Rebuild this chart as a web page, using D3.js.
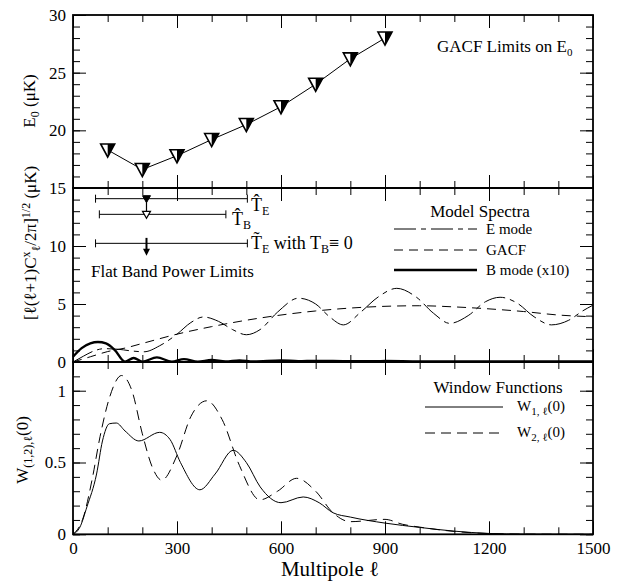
<!DOCTYPE html>
<html>
<head>
<meta charset="utf-8">
<script src="https://cdn.jsdelivr.net/npm/d3@7"></script>
<style>
body{margin:0;background:#fff;}
</style>
</head>
<body>
<svg width="625" height="584"></svg>
<script>
// top panel: GACF limits on E0
var gacfL = [100,200,300,400,500,600,700,800,900];
var gacfE0 = [18.3,16.6,17.8,19.2,20.5,22.05,24.0,26.2,28.0];

// middle panel: model spectra
var eL = [0,30,60,90,130,170,205,250,300,340,376,420,460,500,540,590,650,700,740,780,830,880,934,990,1040,1087,1140,1190,1232,1280,1330,1380,1430,1470,1500];
var eV = [0,0.5,0.95,1.15,1.1,0.95,0.88,1.4,2.4,3.4,3.88,3.5,2.8,2.35,2.8,4.3,5.5,5.0,3.9,3.2,4.3,5.6,6.35,5.6,4.2,3.33,4.0,5.2,5.58,5.1,3.9,3.2,3.6,4.4,4.9];
var gL = [0,50,100,150,200,300,400,500,600,700,800,900,1000,1100,1200,1300,1400,1500];
var gV = [0,0.45,0.9,1.2,1.6,2.4,3.05,3.6,4.05,4.4,4.65,4.8,4.85,4.75,4.58,4.35,4.05,3.9];
var bL = [0,25,50,72,95,120,150,175,200,242,285,320,360,400,440,480,520,600,650,700,800,900,1000,1200,1500];
var bV = [0.45,1.2,1.6,1.72,1.6,1.05,0.03,0.35,0.03,0.4,0.03,0.25,0.03,0.17,0.04,0.14,0.05,0.14,0.07,0.1,0.06,0.08,0.05,0.05,0.04];

// flat band power limits
var limitNames = ["TE","TB","TEwith"];
var limitLo = [65,76,65];
var limitHi = [503,441,503];
var limitY = [14.08,12.73,10.23];
var limitL = 212;

// bottom panel: window functions
var w1L = [0,20,40,68,85,105,125,150,190,250,280,310,366,410,462,500,540,600,664,710,750,800,900,1000,1100,1200,1300,1500];
var w1V = [0,0.05,0.19,0.42,0.65,0.77,0.775,0.72,0.65,0.71,0.66,0.5,0.31,0.42,0.585,0.5,0.33,0.22,0.26,0.22,0.15,0.12,0.078,0.048,0.022,0.006,0.001,0];
var w2L = [0,30,55,78,105,140,170,200,230,256,300,340,386,430,480,539,590,645,700,750,800,900,950,1000,1100,1200,1300,1500];
var w2V = [0,0.12,0.38,0.68,0.95,1.106,1.0,0.7,0.46,0.377,0.55,0.82,0.93,0.8,0.48,0.24,0.3,0.39,0.3,0.15,0.088,0.104,0.07,0.05,0.02,0.005,0.001,0];

var xTicks = [0,300,600,900,1200,1500];

var FONT = "'Liberation Serif', 'Times New Roman', Times, serif";
var svg = d3.select("svg").attr("font-family", FONT);
var left = 73, right = 593;
var x = d3.scaleLinear().domain([0,1500]).range([left,right]);
var y1 = d3.scaleLinear().domain([15,30]).range([188,15]);
var y2 = d3.scaleLinear().domain([0,15]).range([362,188]);
var y3 = d3.scaleLinear().domain([0,1.2]).range([534.3,362]);

function frange(a,b,s){ var r=[]; for(var v=a; v<=b+1e-9; v+=s) r.push(+v.toFixed(4)); return r; }

function panel(y, majors, minors, labels, showX){
  var top = y.range()[1], bot = y.range()[0];
  var g = svg.append("g");
  var minX = frange(0,1500,100).filter(function(d){return xTicks.indexOf(d)<0;});
  // x ticks top and bottom
  [[d3.axisTop, top],[d3.axisBottom, bot]].forEach(function(p){
    g.append("g").attr("transform","translate(0,"+p[1]+")")
      .call(p[0](x).tickValues(xTicks).tickSize(-13).tickFormat(""));
    g.append("g").attr("transform","translate(0,"+p[1]+")")
      .call(p[0](x).tickValues(minX).tickSize(-7).tickFormat(""));
  });
  // y ticks left and right
  g.append("g").attr("class","ylab").attr("transform","translate("+left+",0)")
    .call(d3.axisLeft(y).tickValues(majors).tickSize(-13).tickPadding(7)
      .tickFormat(function(d){ return labels.indexOf(d)>=0 ? d : ""; }));
  g.append("g").attr("transform","translate("+left+",0)")
    .call(d3.axisLeft(y).tickValues(minors).tickSize(-7).tickFormat(""));
  g.append("g").attr("transform","translate("+right+",0)")
    .call(d3.axisRight(y).tickValues(majors).tickSize(-13).tickFormat(""));
  g.append("g").attr("transform","translate("+right+",0)")
    .call(d3.axisRight(y).tickValues(minors).tickSize(-7).tickFormat(""));
  if(showX){
    g.append("g").attr("class","ylab").attr("transform","translate(0,"+bot+")")
      .call(d3.axisBottom(x).tickValues(xTicks).tickSize(0).tickPadding(8).tickFormat(d3.format("d")));
  }
  g.selectAll(".domain").remove();
  g.selectAll("g").attr("font-family", FONT);
  g.selectAll(".tick line").attr("stroke","#000").attr("stroke-width",1);
  g.selectAll(".ylab text").attr("font-size",17).attr("fill","#000");
  g.append("rect").attr("x",left).attr("y",top).attr("width",right-left).attr("height",bot-top)
    .attr("fill","none").attr("stroke","#000").attr("stroke-width",1.8);
}

panel(y1, [15,20,25,30], frange(15,30,1), [15,20,25,30], false);
panel(y2, [0,5,10,15], frange(0,15,1), [0,5,10], false);
panel(y3, [0,0.5,1], frange(0,1.2,0.1), [0,0.5,1], true);

// ---- top panel line + markers
var line1 = d3.line().x(function(d){return x(d[0]);}).y(function(d){return y1(d[1]);});
svg.append("path").datum(d3.zip(gacfL,gacfE0)).attr("d",line1)
  .attr("fill","none").attr("stroke","#000").attr("stroke-width",1);
var mk = svg.selectAll(".mk").data(d3.zip(gacfL,gacfE0)).enter().append("g")
  .attr("transform",function(d){return "translate("+x(d[0])+","+y1(d[1])+")";});
mk.append("path").attr("d","M-7,-6L7,-6L0,7Z").attr("fill","#fff").attr("stroke","#000").attr("stroke-width",1.6);
mk.append("path").attr("d","M0,-6L7,-6L0,7Z").attr("fill","#000");

svg.append("text").attr("x",437).attr("y",52).attr("font-size",17)
  .text("GACF Limits on E").append("tspan").attr("dy",4).attr("font-size",11).text("0");

// ---- middle panel curves
function ln(y){ return d3.line().curve(d3.curveMonotoneX).x(function(d){return x(d[0]);}).y(function(d){return y(d[1]);}); }
svg.append("path").datum(d3.zip(gL,gV)).attr("d",ln(y2))
  .attr("fill","none").attr("stroke","#000").attr("stroke-width",1).attr("stroke-dasharray","9,6");
svg.append("path").datum(d3.zip(eL,eV)).attr("d",ln(y2))
  .attr("fill","none").attr("stroke","#000").attr("stroke-width",1).attr("stroke-dasharray","22,5,5,5");
svg.append("path").datum(d3.zip(bL,bV)).attr("d",ln(y2))
  .attr("fill","none").attr("stroke","#000").attr("stroke-width",2.4);

// legend
svg.append("text").attr("x",480).attr("y",217).attr("text-anchor","middle").attr("font-size",17).text("Model Spectra");
var legM = [["E mode","22,5,5,5",1,229],["GACF","9,6",1,250],["B mode (x10)",null,2.4,270]];
legM.forEach(function(d){
  svg.append("line").attr("x1",394).attr("x2",477).attr("y1",d[3]).attr("y2",d[3])
    .attr("stroke","#000").attr("stroke-width",d[2]).attr("stroke-dasharray",d[1]);
  svg.append("text").attr("x",486).attr("y",d[3]+5).attr("font-size",15).text(d[0]);
});

// flat band power limits
limitNames.forEach(function(n,i){
  var yy = y2(limitY[i]);
  svg.append("line").attr("x1",x(limitLo[i])).attr("x2",x(limitHi[i])).attr("y1",yy).attr("y2",yy).attr("stroke","#000").attr("stroke-width",1);
  [limitLo[i],limitHi[i]].forEach(function(e){
    svg.append("line").attr("x1",x(e)).attr("x2",x(e)).attr("y1",yy-4).attr("y2",yy+4).attr("stroke","#000").attr("stroke-width",1);
  });
});
var xl = x(limitL);
svg.append("line").attr("x1",xl).attr("x2",xl).attr("y1",y2(limitY[0])).attr("y2",y2(limitY[1])).attr("stroke","#000").attr("stroke-width",1.2);
svg.append("path").attr("d","M"+(xl-4)+","+(y2(limitY[0])-3)+"l8,0l-4,7z").attr("fill","#000").attr("stroke","#000");
svg.append("path").attr("d","M"+(xl-4)+","+(y2(limitY[1])-3)+"l8,0l-4,7z").attr("fill","#fff").attr("stroke","#000").attr("stroke-width",1.2);
svg.append("line").attr("x1",xl).attr("x2",xl).attr("y1",y2(10.7)).attr("y2",y2(9.5)).attr("stroke","#000").attr("stroke-width",2);
svg.append("path").attr("d","M"+(xl-3.5)+","+(y2(9.5)-3)+"l7,0l-3.5,7z").attr("fill","#000");

function hatLabel(xp, yp, mark, sub, rest){
  var t = svg.append("text").attr("x",xp).attr("y",yp).attr("font-size",18);
  t.append("tspan").text("T"+mark);
  t.append("tspan").attr("dy",4).attr("font-size",12).text(sub);
  if(rest){ rest(t); }
}
hatLabel(251, 211, "\u0302", "E");
hatLabel(232, 225, "\u0302", "B");
hatLabel(251, 249, "\u0303", "E", function(t){
  t.append("tspan").attr("dy",-4).text(" with T");
  t.append("tspan").attr("dy",4).attr("font-size",12).text("B");
  t.append("tspan").attr("dy",-4).text("\u2261 0");
});
svg.append("text").attr("x",91).attr("y",277).attr("font-size",17).text("Flat Band Power Limits");

// ---- bottom panel
svg.append("path").datum(d3.zip(w2L,w2V)).attr("d",ln(y3))
  .attr("fill","none").attr("stroke","#000").attr("stroke-width",1).attr("stroke-dasharray","10,6");
svg.append("path").datum(d3.zip(w1L,w1V)).attr("d",ln(y3))
  .attr("fill","none").attr("stroke","#000").attr("stroke-width",1);

svg.append("text").attr("x",498).attr("y",393).attr("text-anchor","middle").attr("font-size",17).text("Window Functions");
[["1",null,407],["2","10,6",433]].forEach(function(d){
  svg.append("line").attr("x1",425).attr("x2",503).attr("y1",d[2]).attr("y2",d[2])
    .attr("stroke","#000").attr("stroke-width",1).attr("stroke-dasharray",d[1]);
  var t = svg.append("text").attr("x",517).attr("y",d[2]+4).attr("font-size",15);
  t.append("tspan").text("W");
  t.append("tspan").attr("dy",4).attr("font-size",11).text(d[0]+", \u2113");
  t.append("tspan").attr("dy",-4).text("(0)");
});

// ---- axis titles
svg.append("text").attr("x",330).attr("y",576).attr("text-anchor","middle").attr("font-size",21).text("Multipole \u2113");

var t1 = svg.append("text").attr("transform","translate(35,101) rotate(-90)").attr("text-anchor","middle").attr("font-size",17);
t1.append("tspan").text("E");
t1.append("tspan").attr("dy",4).attr("font-size",12).text("0");
t1.append("tspan").attr("dy",-4).text(" (\u03bcK)");

var t2 = svg.append("text").attr("transform","translate(36,243) rotate(-90)").attr("text-anchor","middle").attr("font-size",17);
t2.append("tspan").text("[\u2113(\u2113+1)C");
t2.append("tspan").attr("dy",-6).attr("font-size",12).text("x");
t2.append("tspan").attr("dy",10).attr("font-size",12).text("\u2113");
t2.append("tspan").attr("dy",-4).text("/2\u03c0]");
t2.append("tspan").attr("dy",-6).attr("font-size",12).text("1/2");
t2.append("tspan").attr("dy",6).text(" (\u03bcK)");

var t3 = svg.append("text").attr("transform","translate(28,450) rotate(-90)").attr("text-anchor","middle").attr("font-size",17);
t3.append("tspan").text("W");
t3.append("tspan").attr("dy",4).attr("font-size",12).text("(1,2),\u2113");
t3.append("tspan").attr("dy",-4).text("(0)");

svg.selectAll("text").attr("font-family", FONT);
</script>
</body>
</html>
